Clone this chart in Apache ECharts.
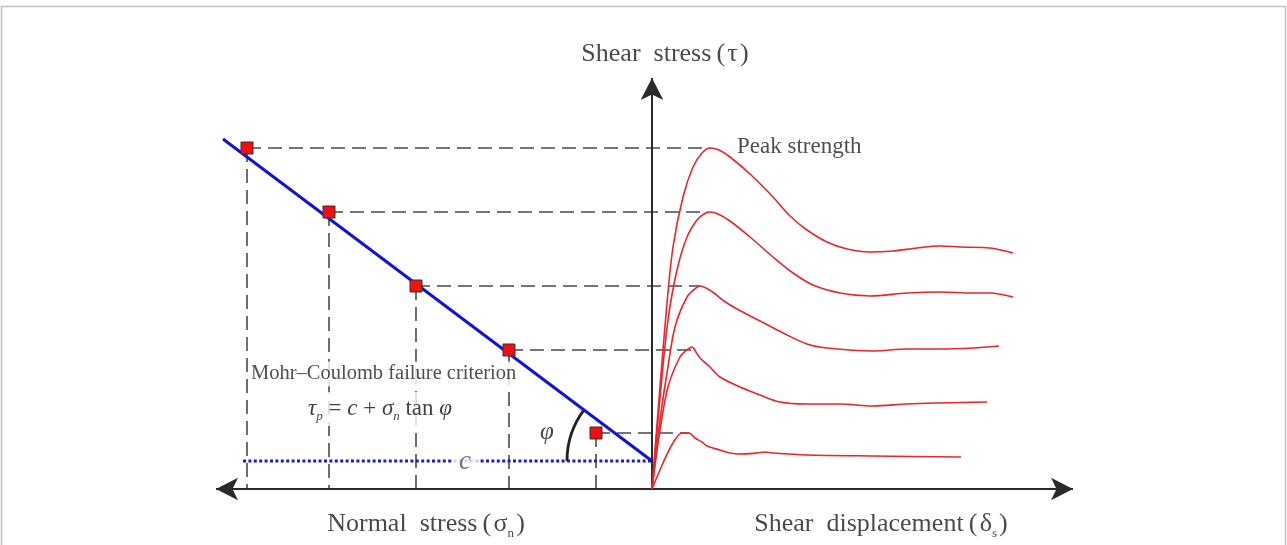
<!DOCTYPE html>
<html><head><meta charset="utf-8">
<script src="https://cdn.jsdelivr.net/npm/echarts@6/dist/echarts.min.js"></script>
<style>html,body{margin:0;padding:0;background:#fff}#c{width:1287px;height:545px}</style>
</head><body><div id="c"></div>
<script>
// Failure points (normal stress plotted leftwards, peak shear stress upward)
const normalStress = [405, 323, 236, 143, 56];
const peakShearStress = [341, 277, 203, 139, 56];
// shear displacement at peak of each shear curve
const peakDisplacement = [58, 56, 48, 40, 37];
// Mohr–Coulomb envelope end points
const envelopeSigma = [429, 0];
const envelopeTau = [350, 28];
const cohesion = 28;
const frictionAngleDeg = 36.9;
const cohesionLineSigma = [409, 0];
const arcRadius = 85;
// axis extents (arrow tips)
const normalAxisTip = 436, dispAxisTip = 421, tauAxisTip = 411;
// shear stress – shear displacement curves
const curveDisp1 = [0, 8, 15, 21, 31, 41, 50, 58, 67, 78, 98, 121, 138, 155, 175, 195, 218, 241, 265, 288, 308, 338, 361];
const curveTau1  = [0, 102, 186, 242, 292, 322, 336, 341, 339, 332, 315, 292, 273, 259, 247, 240, 237, 238, 241, 243, 242, 241, 236];
const curveDisp2 = [0, 9, 16, 25, 35, 45, 52, 58, 66, 78, 98, 121, 141, 161, 188, 218, 255, 288, 321, 338, 361];
const curveTau2  = [0, 102, 169, 219, 252, 269, 275, 277, 275, 268, 252, 232, 216, 204, 196, 193, 196, 197, 196, 196, 192];
const curveDisp3 = [0, 8, 15, 23, 35, 44, 48, 54, 62, 72, 85, 108, 131, 155, 175, 221, 255, 288, 321, 347];
const curveTau3  = [0, 69, 116, 162, 192, 201, 203, 201, 196, 188, 180, 168, 156, 145, 141, 138, 140, 140, 141, 143];
const curveDisp4 = [0, 8, 16, 28, 36, 40, 44, 48, 58, 68, 88, 108, 128, 155, 188, 221, 255, 288, 335];
const curveTau4  = [0, 59, 102, 132, 140, 142, 137, 131, 122, 112, 102, 94, 87, 85, 85, 83, 85, 86, 87];
const curveDisp5 = [0, 11, 21, 30, 37, 43, 50, 55, 68, 78, 88, 105, 113, 121, 155, 221, 309];
const curveTau5  = [0, 26, 46, 56, 56, 51, 47, 43, 39, 36, 35, 36, 37, 36, 34, 33, 32];
// texts
const tauAxisTitle = 'Shear  stress\u2009(\u200aτ\u200a)';
const normalAxisTitle = ['Normal  stress\u2009(\u200aσ', 'n', '\u200a)'];
const dispAxisTitle = ['Shear  displacement\u2009(\u200aδ', 's', '\u200a)'];
const peakLabel = 'Peak strength';
const criterionLabel = 'Mohr–Coulomb failure criterion';
const cohesionLabel = 'c';
const angleLabel = 'φ';

// ---- Chart ----
const chart = echarts.init(document.getElementById('c'), null, {renderer: 'canvas'});
const SERIF = "'Liberation Serif', 'Times New Roman', serif";
const INK = '#1a1a1a';
const dash = {color: '#4a4a4a', width: 1.6, type: [14, 7]};
const curves = [
  [curveDisp1, curveTau1], [curveDisp2, curveTau2], [curveDisp3, curveTau3],
  [curveDisp4, curveTau4], [curveDisp5, curveTau5]
];
const series = [];
// dashed guide lines
normalStress.forEach((s, i) => {
  series.push({type: 'line', silent: true, symbol: 'none', z: 2, lineStyle: dash,
    data: [[-s, peakShearStress[i]], [peakDisplacement[i], peakShearStress[i]]]});
  series.push({type: 'line', silent: true, symbol: 'none', z: 2, lineStyle: dash,
    data: [[-s, peakShearStress[i]], [-s, 0]]});
});
// axes with arrows
series.push({type: 'line', silent: true, data: [], z: 3,
  markLine: {silent: true, animation: false, symbol: ['arrow', 'arrow'], symbolSize: [17, 22],
    label: {show: false}, lineStyle: {color: '#2a2a2a', width: 2, type: 'solid'},
    emphasis: {disabled: true},
    data: [
      [{coord: [-normalAxisTip, 0]}, {coord: [dispAxisTip, 0]}],
      [{coord: [0, 0], symbol: 'none'}, {coord: [0, tauAxisTip], symbol: 'arrow'}]
    ]}
});
// cohesion dotted line
series.push({type: 'line', silent: true, symbol: 'none', z: 4,
  lineStyle: {color: '#1a1ad6', width: 3, type: [3, 2.4]},
  data: cohesionLineSigma.map(s => [-s, cohesion])});
// envelope
series.push({type: 'line', silent: true, symbol: 'none', z: 5,
  lineStyle: {color: '#1212d4', width: 3},
  data: envelopeSigma.map((s, i) => [-s, envelopeTau[i]])});
// friction angle arc
series.push({type: 'custom', silent: true, z: 5, clip: false,
  renderItem: (params, api) => {
    const c = api.coord([api.value(0), api.value(1)]);
    const r = api.size([api.value(2), 0])[0];
    const a = api.value(3) * Math.PI / 180;
    return {type: 'arc', shape: {cx: c[0], cy: c[1], r: r, startAngle: Math.PI, endAngle: Math.PI + a, clockwise: true},
      style: {stroke: '#222', lineWidth: 2.8, fill: 'none'}};
  },
  data: [[0, cohesion, arcRadius, frictionAngleDeg]]});
// shear curves
curves.forEach(([d, t]) => {
  series.push({type: 'line', silent: true, symbol: 'none', smooth: 0.3, z: 6,
    lineStyle: {color: '#e8262b', width: 1.6},
    data: d.map((v, i) => [v, t[i]])});
});
// failure points
series.push({type: 'scatter', silent: true, z: 20, symbol: 'rect', symbolSize: 12,
  itemStyle: {color: '#f01010', borderColor: '#333', borderWidth: 1, opacity: 1},
  data: normalStress.map((s, i) => [-s, peakShearStress[i]])});
// text annotations
const txt = (pos, formatter, extra) => ({value: pos, label: Object.assign({show: true, formatter: formatter,
  fontFamily: SERIF, color: INK}, extra)});
const subRich = {t: {fontFamily: SERIF, fontSize: 26, color: INK, lineHeight: 32},
  s: {fontFamily: SERIF, fontSize: 13, color: INK, verticalAlign: 'bottom', lineHeight: 13}};
series.push({type: 'scatter', silent: true, z: 10, symbolSize: 0, symbol: 'circle',
  data: [
    txt([13, 435], tauAxisTitle, {position: 'inside', fontSize: 26}),
    txt([85, 342], peakLabel, {position: 'right', distance: 0, fontSize: 23, color: '#222'}),
    txt([-402, 115], criterionLabel, {position: 'right', distance: 0, fontSize: 20.5, color: '#222',
      backgroundColor: '#fff', padding: [2, 1]}),
    txt([-346, 80], '{it|τ}{sub|p}{n| = }{it|c}{n| + }{it|σ}{sub|n}{n| tan }{it|φ}',
      {position: 'right', distance: 0, backgroundColor: '#fff', padding: [3, 2],
       rich: {it: {fontFamily: SERIF, fontStyle: 'italic', fontSize: 23, color: '#111', lineHeight: 28},
              n: {fontFamily: SERIF, fontSize: 23, color: '#111', lineHeight: 28},
              sub: {fontFamily: SERIF, fontStyle: 'italic', fontSize: 13, color: '#111', verticalAlign: 'bottom', lineHeight: 13}}}),
    txt([-187, 27], cohesionLabel, {position: 'inside', fontSize: 27, fontStyle: 'italic', color: '#555',
      backgroundColor: '#fff', padding: [0, 7]}),
    txt([-105, 57], angleLabel, {position: 'inside', fontSize: 25, fontStyle: 'italic', color: '#1a1a1a'}),
    txt([-226, -35], '{t|' + normalAxisTitle[0] + '}{s|' + normalAxisTitle[1] + '}{t|' + normalAxisTitle[2] + '}',
      {position: 'inside', rich: subRich}),
    txt([229, -35], '{t|' + dispAxisTitle[0] + '}{s|' + dispAxisTitle[1] + '}{t|' + dispAxisTitle[2] + '}',
      {position: 'inside', rich: subRich})
  ]});

chart.setOption({
  animation: false,
  backgroundColor: '#fff',
  grid: {left: 0, right: 0, top: 0, bottom: 0, containLabel: false},
  xAxis: {type: 'value', min: -652, max: 635, show: false},
  yAxis: {type: 'value', min: -56, max: 489, show: false},
  graphic: [{type: 'rect', shape: {x: 1.5, y: 6.5, width: 1284, height: 600},
    style: {fill: 'none', stroke: '#c2c2c2', lineWidth: 1.5}, silent: true, z: 100}],
  series: series
});
</script></body></html>
